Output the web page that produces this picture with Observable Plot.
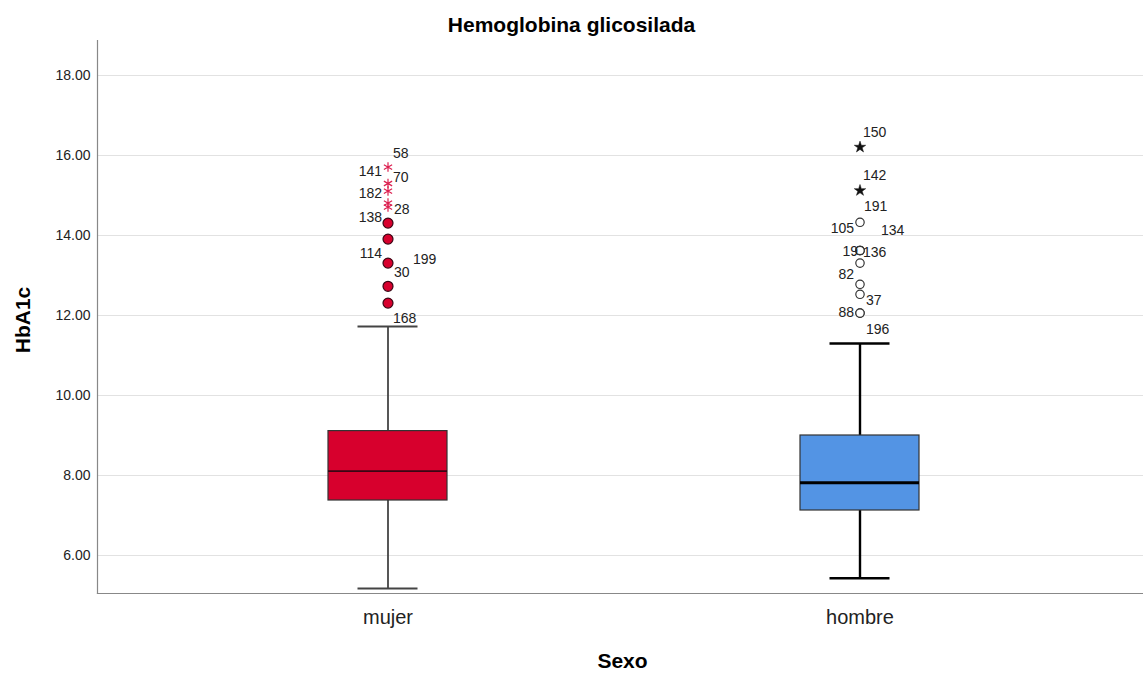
<!DOCTYPE html>
<html>
<head>
<meta charset="utf-8">
<script src="https://cdn.jsdelivr.net/npm/d3@7"></script>
<script src="https://cdn.jsdelivr.net/npm/@observablehq/plot@0.6"></script>
<style>
  body { margin: 0; background: #fff; font-family: "Liberation Sans", Arial, sans-serif; }
  #title { width: 1143px; height: 40px; box-sizing: border-box; padding-top: 5px; line-height: 40px;
           text-align: center; font-weight: bold; font-size: 21px; color: #000; }
</style>
</head>
<body>
<div id="title">Hemoglobina glicosilada</div>
<div id="chart"></div>
<script>
// ---- data ----
const categories = ["mujer", "hombre"];
const q1 = [7.375, 7.125];
const median = [8.11, 7.82];
const q3 = [9.11, 9.0];
const whiskerLow = [5.175, 5.43];
const whiskerHigh = [11.725, 11.3];

const mujerOutlierIds = ["58", "141", "70", "182", "28", "138", "114", "199", "30", "168"];
const mujerOutlierValues = [15.71, 15.3, 15.11, 14.81, 14.71, 14.31, 13.91, 13.31, 12.73, 12.31];
const mujerOutlierExtreme = [true, true, true, true, true, false, false, false, false, false];

const hombreOutlierIds = ["150", "142", "191", "105", "134", "19", "136", "82", "37", "88", "196"];
const hombreOutlierValues = [16.21, 15.125, 14.33, 13.625, 13.625, 13.625, 13.31, 12.78, 12.53, 12.06, 12.06];
const hombreOutlierExtreme = [true, true, false, false, false, false, false, false, false, false, false];

const yTicks = [6, 8, 10, 12, 14, 16, 18];

// ---- label placement (style) ----
const mujerLabelOffsets = [
  [5, -13.6, "start"], [-6, -12, "end"], [5, -13.6, "start"], [-6, -9.6, "end"], [6, 2.4, "start"],
  [-6, -5.6, "end"], [-6, 14.4, "end"], [25, -3.6, "start"], [6, -13.8, "start"], [5, 15.4, "start"]
];
const hombreLabelOffsets = [
  [3, -14.6, "start"], [3, -15, "start"], [4, -15.8, "start"], [-6, -22, "end"], [21, -20, "start"],
  [-2, 1, "end"], [3, -10.6, "start"], [-6, -9.8, "end"], [6, 6.2, "start"], [-6, -0.6, "end"], [6, 16.4, "start"]
];

const styles = {
  mujer:  {fill: "#D7002D", median: "#3a0614", medianW: 1.6, whisker: "#444", whiskerW: 1.8,
           dotFill: "#D7002D", dotStroke: "#3a0614", star: "asterisk", starColor: "#DC2050"},
  hombre: {fill: "#5394E4", median: "#000", medianW: 3, whisker: "#000", whiskerW: 2.4,
           dotFill: "white", dotStroke: "#333", star: "star", starColor: "#111"}
};

// ---- tables built from arrays ----
const boxes = categories.map((c, i) => ({cat: c, q1: q1[i], med: median[i], q3: q3[i], lo: whiskerLow[i], hi: whiskerHigh[i]}));
const outliers = [
  ...mujerOutlierIds.map((id, i) => ({cat: "mujer", id, value: mujerOutlierValues[i], extreme: mujerOutlierExtreme[i], off: mujerLabelOffsets[i]})),
  ...hombreOutlierIds.map((id, i) => ({cat: "hombre", id, value: hombreOutlierValues[i], extreme: hombreOutlierExtreme[i], off: hombreLabelOffsets[i]}))
];

const marks = [
  Plot.gridY(yTicks, {stroke: "#e2e2e2", strokeOpacity: 1, strokeWidth: 1}),
  Plot.axisY(yTicks, {tickSize: 0, tickPadding: 7, fontSize: 14, tickFormat: d => d.toFixed(2), label: null, color: "#222"}),
  Plot.axisX({tickSize: 0, tickPadding: 16, fontSize: 20, label: null, color: "#222"}),
  Plot.frame({anchor: "left", stroke: "#888", strokeWidth: 1.2}),
  Plot.frame({anchor: "bottom", stroke: "#888", strokeWidth: 1.2})
];

for (const b of boxes) {
  const s = styles[b.cat];
  marks.push(
    Plot.ruleX([b], {x: "cat", y1: "q3", y2: "hi", stroke: s.whisker, strokeWidth: s.whiskerW}),
    Plot.ruleX([b], {x: "cat", y1: "lo", y2: "q1", stroke: s.whisker, strokeWidth: s.whiskerW}),
    Plot.tickY([b], {x: "cat", y: "hi", stroke: s.whisker, strokeWidth: s.whiskerW, insetLeft: 29.5, insetRight: 29.5}),
    Plot.tickY([b], {x: "cat", y: "lo", stroke: s.whisker, strokeWidth: s.whiskerW, insetLeft: 29.5, insetRight: 29.5}),
    Plot.barY([b], {x: "cat", y1: "q1", y2: "q3", fill: s.fill, stroke: "#333", strokeWidth: 1.2}),
    Plot.tickY([b], {x: "cat", y: "med", stroke: s.median, strokeWidth: s.medianW})
  );
}

for (const c of categories) {
  const s = styles[c];
  const rows = outliers.filter(o => o.cat === c);
  marks.push(
    Plot.dot(rows.filter(o => !o.extreme), {x: "cat", y: "value", r: c === "mujer" ? 5 : 4.2,
      fill: s.dotFill, stroke: s.dotStroke, strokeWidth: 1.2}),
    Plot.dot(rows.filter(o => o.extreme), {x: "cat", y: "value", symbol: s.star, r: c === "mujer" ? 4.5 : 3.6,
      fill: s.starColor, stroke: s.starColor, strokeWidth: c === "mujer" ? 1.2 : 0.5})
  );
}

for (const o of outliers) {
  marks.push(Plot.text([o], {x: "cat", y: "value", text: "id", dx: o.off[0], dy: o.off[1],
    textAnchor: o.off[2], fontSize: 14, fill: "#222"}));
}

marks.push(
  Plot.text(["HbA1c"], {frameAnchor: "left", textAnchor: "middle", lineAnchor: "middle", rotate: -90, dx: -74, dy: 3,
    fontSize: 21, fontWeight: "bold", fill: "#000"}),
  Plot.text(["Sexo"], {frameAnchor: "bottom", textAnchor: "middle", lineAnchor: "middle", dx: 2, dy: 67.5,
    fontSize: 21, fontWeight: "bold", fill: "#000"})
);

const chart = Plot.plot({
  width: 1143,
  height: 633,
  marginTop: 0,
  marginLeft: 97,
  marginRight: 0,
  marginBottom: 80,
  style: {fontFamily: "'Liberation Sans', Arial, sans-serif", background: "white", overflow: "visible"},
  x: {type: "band", domain: categories, paddingInner: 0.748, paddingOuter: 0.482, align: 0.5066},
  y: {domain: [5.05, 18.875]},
  marks
});
document.getElementById("chart").appendChild(chart);
</script>
</body>
</html>
